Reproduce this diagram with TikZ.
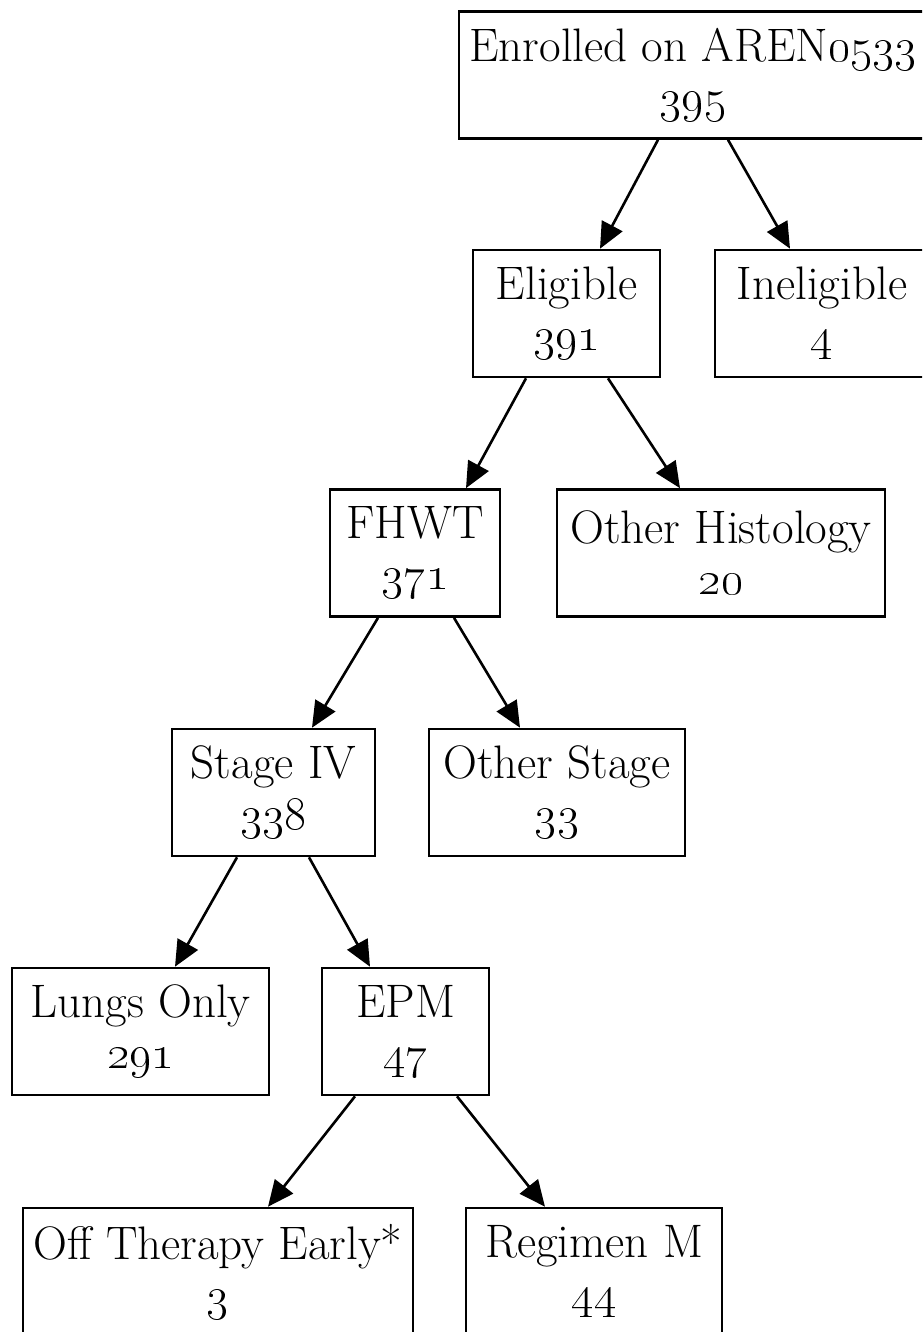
\RequirePackage{fix-cm}
\documentclass[tikz,border=0pt]{standalone}
\usetikzlibrary{arrows.meta,calc}

\begin{document}
\begin{tikzpicture}[x=0.5pt,y=-0.5pt,line width=1.3pt]
    \tikzstyle{box}=[draw,rectangle,inner sep=0pt,minimum height=63.5pt,align=center,font=\fontsize{23.5}{25.5}\selectfont]
    \tikzstyle{edge}=[-{Triangle[length=13pt,width=11.5pt]}]
    \clip (0,0) rectangle (922,1332);

    % Draw the boxes, one level at a time
    \node[box,minimum width=234pt] (enr) at (693,75) {Enrolled on AREN\oldstylenums{0533}\\\oldstylenums{395}};

    \node[box,minimum width=93.5pt] (elig) at (566.5,313.5) {Eligible\\\oldstylenums{391}};
    \node[box,minimum width=107pt] (inel) at (822,313.5) {Ineligible\\\oldstylenums{4}};

    \node[box,minimum width=85pt] (fhwt) at (415,553) {FHWT\\\oldstylenums{371}};
    \node[box,minimum width=164pt] (hist) at (721,553) {Other Histology\\\oldstylenums{20}};

    \node[box,minimum width=101.5pt] (st4) at (273.5,792.5) {Stage IV\\\oldstylenums{338}};
    \node[box,minimum width=128pt] (ost) at (557,792.5) {Other Stage\\\oldstylenums{33}};

    \node[box,minimum width=128.5pt] (lung) at (140.5,1031.5) {Lungs Only\\\oldstylenums{291}};
    \node[box,minimum width=83.5pt] (epm) at (405.5,1031.5) {EPM\\\oldstylenums{47}};

    \node[box,minimum width=195pt] (off) at (218,1271.5) {Off Therapy Early*\\\oldstylenums{3}};
    \node[box,minimum width=128pt] (reg) at (594,1271.5) {Regimen M\\\oldstylenums{44}};

    % Connect them
    \draw[edge] ($(enr.south)+(-35,0)$) -- ($(elig.north)+(33.5,0)$);
    \draw[edge] ($(enr.south)+(35,0)$) -- ($(inel.north)+(-32,0)$);
    \draw[edge] ($(elig.south)+(-40.5,0)$) -- ($(fhwt.north)+(51,0)$);
    \draw[edge] ($(elig.south)+(41.5,0)$) -- ($(hist.north)+(-41,0)$);
    \draw[edge] ($(fhwt.south)+(-37,0)$) -- ($(st4.north)+(38.5,0)$);
    \draw[edge] ($(fhwt.south)+(39,0)$) -- ($(ost.north)+(-37,0)$);
    \draw[edge] ($(st4.south)+(-36.5,0)$) -- ($(lung.north)+(34.5,0)$);
    \draw[edge] ($(st4.south)+(35.5,0)$) -- ($(epm.north)+(-35.5,0)$);
    \draw[edge] ($(epm.south)+(-50.5,0)$) -- ($(off.north)+(50,0)$);
    \draw[edge] ($(epm.south)+(51.5,0)$) -- ($(reg.north)+(-49,0)$);
\end{tikzpicture}
\end{document}
